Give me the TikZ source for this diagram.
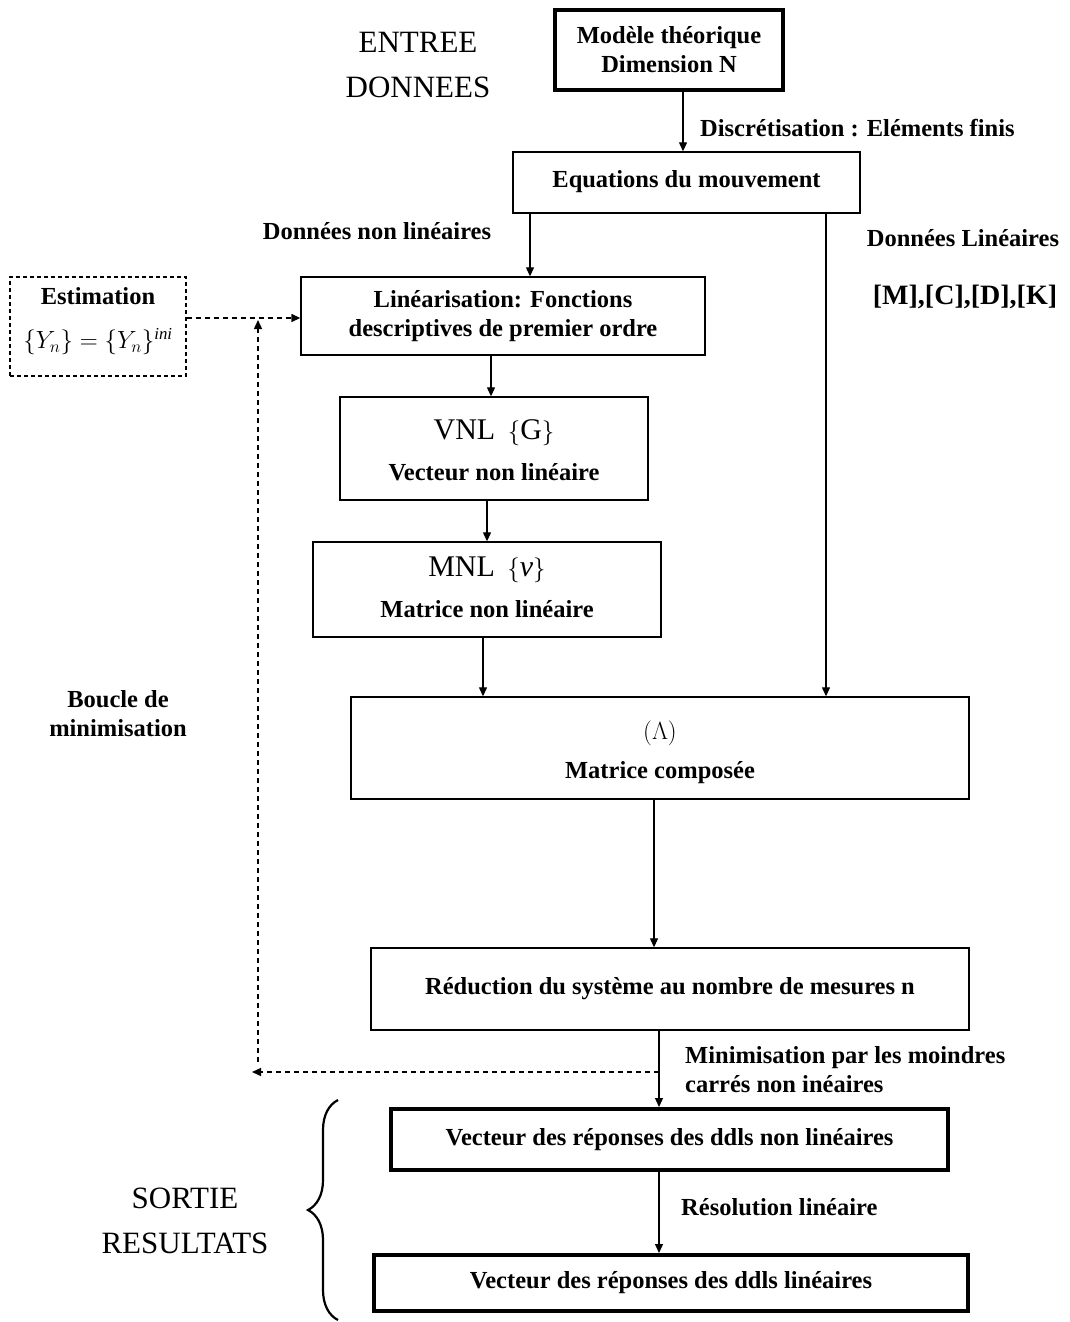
\documentclass[tikz,border=0pt]{standalone}
\usepackage{fontspec}
\setmainfont{Liberation Serif}
\usetikzlibrary{arrows.meta,decorations.pathreplacing,calc}
\begin{document}
\begin{tikzpicture}[x=1pt,y=-1pt,
  box/.style={draw,line width=1.4pt,inner sep=0pt,align=center,font=\fontsize{24.5}{29}\selectfont\bfseries},
  thickbox/.style={box,line width=4pt},
  arr/.style={line width=1.2pt,-{Triangle[length=9pt,width=8pt]}},
  darr/.style={line width=1.4pt,dash pattern=on 5pt off 4pt,-{Triangle[length=9pt,width=8pt]}},
  lbl/.style={font=\fontsize{24.5}{29}\selectfont\bfseries,inner sep=0pt,align=center},
  big/.style={font=\fontsize{31}{45}\selectfont,inner sep=0pt,align=center}]
\useasboundingbox (0,0) rectangle (1069,1322);
% boxes
\node[thickbox,minimum width=228pt,minimum height=80pt] (mod) at (669,50) {Modèle théorique\\Dimension N};
\node[box,minimum width=347pt,minimum height=61pt] (equ) at (686.5,182.5) {\raisebox{8pt}{Equations du mouvement}};
\node[box,minimum width=404pt,minimum height=78pt] (lin) at (503,316) {Linéarisation: Fonctions\\descriptives de premier ordre};
\node[box,dashed,dash pattern=on 4pt off 3pt,line width=1.2pt,minimum width=176pt,minimum height=99pt] (est) at (98,326.5) {};
\node[lbl] (estt) at (98,296) {Estimation};
\node[inner sep=0pt] (estf) at (98,342) {\fontsize{24}{28}\selectfont$\{Y_{n}\}=\{Y_{n}\}^{\mathit{ini}}$};
\node[box,minimum width=308pt,minimum height=103pt] (vnl) at (494,448.5) {};
\node[inner sep=0pt] (vnlt) at (494,433) {\fontsize{30}{32}\selectfont VNL \,$\{\mathrm{G}\}$};
\node[lbl] (vnlb) at (494,472) {Vecteur non linéaire};
\node[box,minimum width=348pt,minimum height=95pt] (mnl) at (487,589.5) {};
\node[inner sep=0pt] (mnlt) at (487,570) {\fontsize{30}{32}\selectfont MNL \,$\{\mathit{v}\}$};
\node[lbl] (mnlb) at (487,609) {Matrice non linéaire};
\node[box,minimum width=618pt,minimum height=102pt] (mc) at (660,748) {};
\node[inner sep=0pt] (mct) at (660,733) {\fontsize{24}{28}\selectfont$(\Lambda)$};
\node[lbl] (mcb) at (660,773) {Matrice composée};
\node[box,minimum width=598pt,minimum height=82pt] (red) at (670,989) {Réduction du système au nombre de mesures n};
\node[thickbox,minimum width=557pt,minimum height=61pt] (vnl2) at (669.5,1139.5) {Vecteur des réponses des ddls non linéaires};
\node[thickbox,minimum width=594pt,minimum height=56pt] (vl) at (671,1283) {Vecteur des réponses des ddls linéaires};
% labels
\node[big] (entree) at (418,65) {ENTREE\\DONNEES};
\node[lbl,anchor=west] (discr) at (700,128) {Discrétisation : Eléments finis};
\node[lbl] (dnl) at (377,231) {Données non linéaires};
\node[lbl] (dl) at (963,238) {Données Linéaires};
\node[inner sep=0pt,font=\fontsize{28}{30}\selectfont\bfseries] (mcdk) at (965,297) {[M],[C],[D],[K]};
\node[lbl] (boucle) at (118,714) {Boucle de\\minimisation};
\node[lbl,anchor=west,align=left] (mini) at (685,1070) {Minimisation par les moindres\\carrés non inéaires};
\node[lbl,anchor=west] (reso) at (681,1207) {Résolution linéaire};
\node[big] (sortie) at (185,1221) {SORTIE\\RESULTATS};
% column coordinates
\coordinate (c683) at (683,0);
\coordinate (c530) at (530,0);
\coordinate (c826) at (826,0);
\coordinate (c491) at (491,0);
\coordinate (c487) at (487,0);
\coordinate (c483) at (483,0);
\coordinate (c654) at (654,0);
\coordinate (c659) at (659,0);
\coordinate (r318) at (0,318);
% arrows
\draw[arr] (mod.south -| c683) -- (equ.north -| c683);
\draw[arr] (equ.south -| c530) -- (lin.north -| c530);
\draw[arr] (equ.south -| c826) -- (mc.north -| c826);
\draw[arr] (lin.south -| c491) -- (vnl.north -| c491);
\draw[arr] (vnl.south -| c487) -- (mnl.north -| c487);
\draw[arr] (mnl.south -| c483) -- (mc.north -| c483);
\draw[arr] (mc.south -| c654) -- (red.north -| c654);
\draw[arr] (red.south -| c659) -- (vnl2.north -| c659);
\draw[arr] (vnl2.south -| c659) -- (vl.north -| c659);
% dashed loop
\draw[darr] (est.east |- r318) -- (lin.west |- r318);
\coordinate (d1) at (659,1072);
\coordinate (d2) at (252,1072);
\coordinate (d3) at (258,1062);
\coordinate (d4) at (258,320);
\draw[darr] (d1) -- (d2);
\draw[darr] (d3) -- (d4);
% brace
\coordinate (b1) at (338,1320);
\coordinate (b2) at (338,1100);
\draw[line width=2.2pt,decorate,decoration={brace,amplitude=30pt}] (b1) -- (b2);
\end{tikzpicture}
\end{document}
